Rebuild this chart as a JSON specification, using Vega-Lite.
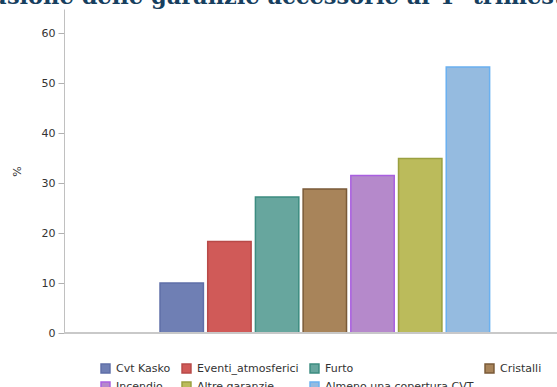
{
  "$schema": "https://vega.github.io/schema/vega-lite/v6.json",
  "width": 493,
  "height": 324,
  "autosize": {"type": "none"},
  "padding": {"left": 64, "top": 9, "right": 0, "bottom": 54},
  "background": "white",
  "title": {
    "text": "Diffusione delle garanzie accessorie al 4° trimestre 2022",
    "font": "DejaVu Serif",
    "fontSize": 22.5,
    "fontWeight": "bold",
    "color": "#173f5f",
    "anchor": "middle",
    "orient": "top",
    "baseline": "alphabetic",
    "offset": 0,
    "dy": 17,
    "dx": -8
  },
  "data": {
    "values": [
      {"garanzia": "Cvt Kasko", "valore": 10.0},
      {"garanzia": "Eventi_atmosferici", "valore": 18.3},
      {"garanzia": "Furto", "valore": 27.2},
      {"garanzia": "Cristalli", "valore": 28.8},
      {"garanzia": "Incendio", "valore": 31.5},
      {"garanzia": "Altre garanzie", "valore": 34.9},
      {"garanzia": "Almeno una copertura CVT", "valore": 53.2}
    ]
  },
  "layer": [
    {
      "mark": {"type": "bar", "strokeWidth": 1.5, "opacity": 1},
      "encoding": {
        "x": {
          "field": "garanzia",
          "type": "nominal",
          "sort": null,
          "scale": {
            "domain": [" ", "  ", "Cvt Kasko", "Eventi_atmosferici", "Furto", "Cristalli", "Incendio", "Altre garanzie", "Almeno una copertura CVT", "   "],
            "paddingInner": 0.09, "paddingOuter": 0.2125, "align": 0.03, "round": false
          },
          "axis": {"labels": false, "ticks": false, "title": null, "domain": false}
        },
        "y": {
          "field": "valore",
          "type": "quantitative",
          "scale": {"domain": [0, 64.8], "nice": false},
          "axis": {
            "values": [0, 10, 20, 30, 40, 50, 60],
            "grid": false,
            "title": "%",
            "titleFont": "DejaVu Sans",
            "titleFontWeight": "normal",
            "titleFontSize": 11,
            "titleColor": "#333333",
            "titlePadding": 19,
            "labelFont": "DejaVu Sans",
            "labelFontSize": 11,
            "labelColor": "#333333",
            "labelPadding": 3,
            "tickColor": "#b0b0b0",
            "tickSize": 6,
            "domainColor": "#c0c0c0"
          }
        },
        "color": {
          "field": "garanzia",
          "type": "nominal",
          "sort": null,
          "scale": {
            "domain": ["Cvt Kasko", "Eventi_atmosferici", "Furto", "Cristalli", "Incendio", "Altre garanzie", "Almeno una copertura CVT"],
            "range": ["#6f7fb4", "#d05a58", "#67a69e", "#a8845a", "#b589cb", "#bbbb5b", "#95bbe0"]
          },
          "legend": {
            "title": null,
            "orient": "none",
            "legendX": 36,
            "legendY": 354,
            "direction": "horizontal",
            "columns": 4,
            "symbolType": "square",
            "symbolSize": 80,
            "symbolStrokeWidth": 1.5,
            "labelFont": "DejaVu Sans",
            "labelFontSize": 11,
            "labelColor": "#333333",
            "labelOffset": 5,
            "columnPadding": 8,
            "rowPadding": 3
          }
        },
        "stroke": {
          "field": "garanzia",
          "type": "nominal",
          "sort": null,
          "scale": {
            "domain": ["Cvt Kasko", "Eventi_atmosferici", "Furto", "Cristalli", "Incendio", "Altre garanzie", "Almeno una copertura CVT"],
            "range": ["#5f6fa8", "#b84a48", "#3c8c80", "#7a5a38", "#a95fe0", "#9aa040", "#6ab0f0"]
          },
          "legend": null
        }
      }
    },
    {
      "mark": {"type": "rule", "color": "#c8c8c8", "strokeWidth": 1.5},
      "encoding": {"y": {"datum": 0}}
    }
  ],
  "config": {"view": {"stroke": null}}
}
